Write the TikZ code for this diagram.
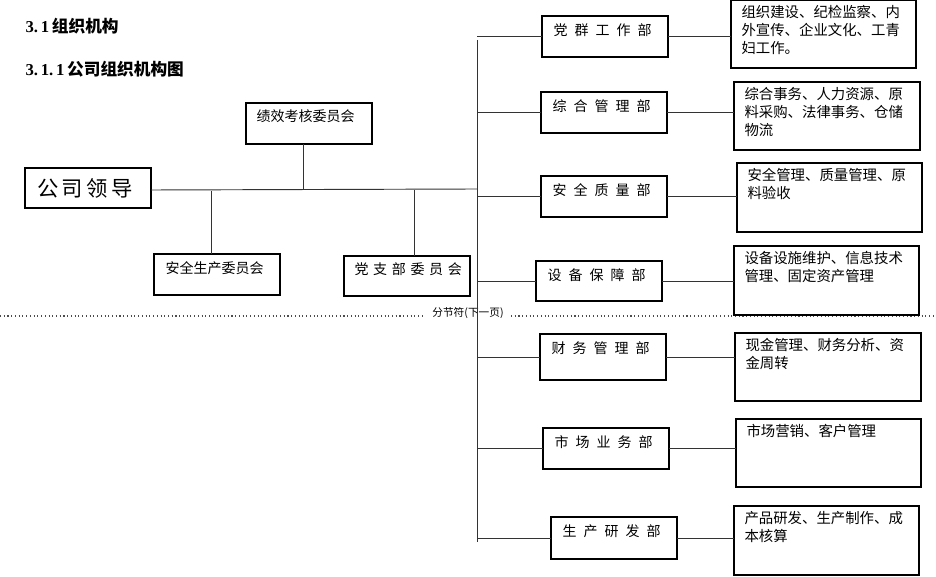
\documentclass[tikz,border=0pt]{standalone}
\usepackage{fontspec}
\setmainfont{Liberation Serif}
\newfontfamily\cjk{Noto Sans CJK SC}
\usetikzlibrary{positioning}
\begin{document}
\begin{tikzpicture}[x=0.75pt,y=-0.75pt, thick]
  \tikzstyle{every node} = [inner sep = 0pt];
  \tikzset{
    box/.style={draw, line width=0.9pt},
    dept/.style={font=\cjk\fontsize{10.5}{12}\selectfont, anchor=north west},
    desc/.style={font=\cjk\fontsize{10.8}{13.5}\selectfont, anchor=north west, align=left},
    wire/.style={line width=0.7pt, black!80}
  }
  \useasboundingbox (0,0) rectangle (936,577);
  % headings
  \node[anchor=west, font=\bfseries\fontsize{12.5}{14}\selectfont] (h1) at (25,26) {3.\,1\,{\cjk 组织机构}};
  \node[anchor=west, font=\bfseries\fontsize{12.5}{14}\selectfont] (h2) at (25,69) {3.\,1.\,1\,{\cjk 公司组织机构图}};
  % section break
  \draw[dotted, black!70] (0,316) -- (425,316) (511,316) -- (936,316);
  \node[font=\cjk\fontsize{8}{9}\selectfont] (brk) at (468,313) {分节符(下一页)};
  % left part
  \draw[box] (25,168) rectangle (151,208);
  \node[font=\cjk\fontsize{16}{18}\selectfont] (lead) at (85,188) {公\,司\,领\,导};
  \draw[box] (246,103) rectangle (372,144);
  \node[dept] (jx) at (256,109) {绩效考核委员会};
  \draw[box] (154,254) rectangle (280,295);
  \node[dept] (aq) at (165,261) {安全生产委员会};
  \draw[box] (344,256) rectangle (470,296);
  \node[dept] (dz) at (354,262) {党\,\,支\,\,部\,\,委\,\,员\,\,会};
  \coordinate (j1) at (303,190);
  \coordinate (j2) at (211,191);
  \coordinate (j3) at (414,190);
  \draw[wire] (151,190) -- (477,189);
  \draw[wire] (303,144) -- (j1);
  \draw[wire] (j2) -- (211,254);
  \draw[wire] (j3) -- (414,256);
  % bus
  \draw[wire] (477,40) -- (477,542);
  % departments
  \foreach \n/\xa/\ya/\xb/\yb/\t/\dx/\dy/\dxb/\dyb/\d in {
    1/542/16/668/57/{党\enspace 群\enspace 工\enspace 作\enspace 部}/731/0/916/68/{组织建设、纪检监察、内\\外宣传、企业文化、工青\\妇工作。},
    2/541/92/667/133/{综\enspace 合\enspace 管\enspace 理\enspace 部}/734/82/920/150/{综合事务、人力资源、原\\料采购、法律事务、仓储\\物流},
    3/541/176/667/217/{安\enspace 全\enspace 质\enspace 量\enspace 部}/737/163/922/232/{安全管理、质量管理、原\\料验收},
    4/536/261/662/301/{设\enspace 备\enspace 保\enspace 障\enspace 部}/734/246/919/315/{设备设施维护、信息技术\\管理、固定资产管理},
    5/540/334/666/380/{财\enspace 务\enspace 管\enspace 理\enspace 部}/735/333/921/401/{现金管理、财务分析、资\\金周转},
    6/543/428/669/469/{市\enspace 场\enspace 业\enspace 务\enspace 部}/736/419/921/487/{市场营销、客户管理},
    7/551/517/677/559/{生\enspace 产\enspace 研\enspace 发\enspace 部}/734/506/919/575/{产品研发、生产制作、成\\本核算}}{
    \draw[box] (\xa,\ya) rectangle (\xb,\yb);
    \node[dept] (dep\n) at (\xa+11,\ya+7) {\t};
    \draw[box] (\dx,\dy) rectangle (\dxb,\dyb);
    \node[desc] (des\n) at (\dx+10,\dy+5) {\d};
    \draw[wire] (477,\ya/2+\yb/2) -- (\xa,\ya/2+\yb/2);
    \draw[wire] (\xb,\ya/2+\yb/2) -- (\dx,\ya/2+\yb/2);
  }
\end{tikzpicture}
\end{document}
